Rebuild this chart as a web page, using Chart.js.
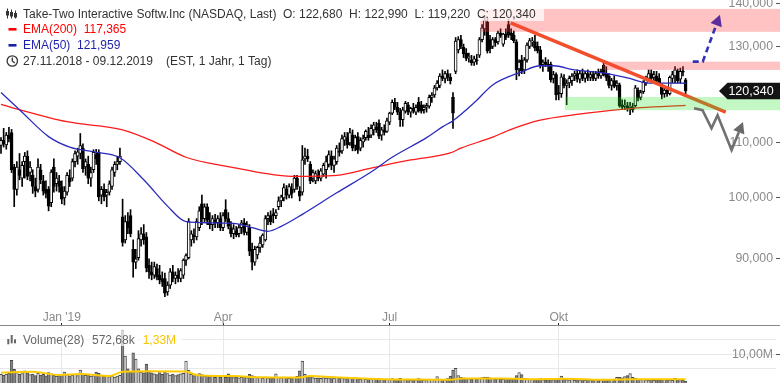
<!DOCTYPE html>
<html><head><meta charset="utf-8">
<script src="https://cdn.jsdelivr.net/npm/chart.js@4/dist/chart.umd.min.js"></script>
<style>
html,body{margin:0;padding:0;background:#fff;overflow:hidden;}
#wrap{position:relative;width:780px;height:383px;overflow:hidden;background:#fff;}
#main{position:absolute;left:0;top:0;}
#vol{position:absolute;left:0;top:305px;}
</style></head><body>
<div id="wrap">
<canvas id="main" width="780" height="326"></canvas>
<canvas id="vol" width="780" height="78"></canvas>
</div>
<script>
const FONT = "'Liberation Sans', Arial, Helvetica, sans-serif";

// ---------------- data ----------------
const open = [
109.5,110.5,109.6,111.5,112.0,105.5,101.5,105.0,103.5,106.5,
107.5,104.5,104.0,102.0,101.5,105.0,103.0,101.5,101.5,99.2,
105.5,102.5,103.0,102.0,100.0,101.0,103.5,103.5,106.5,107.5,
108.0,109.0,105.5,106.0,103.5,105.0,107.8,108.2,100.5,101.5,
100.5,101.0,102.0,104.5,106.0,106.5,96.8,93.0,96.0,97.0,
91.5,89.5,90.2,93.0,94.0,93.5,89.0,88.0,87.5,88.5,
87.5,87.0,87.0,85.0,86.0,88.0,87.0,87.5,87.0,87.5,
89.8,90.2,93.0,93.8,93.5,95.0,99.0,96.5,98.5,96.0,
95.5,96.2,95.8,96.5,95.0,98.0,96.5,95.0,94.0,94.5,
94.0,95.0,95.8,94.2,95.0,91.5,89.5,90.6,91.8,92.2,
93.0,96.5,97.0,97.3,97.0,98.5,99.5,100.0,101.5,100.5,
101.5,101.5,103.5,101.2,101.0,107.0,107.5,106.0,103.5,103.0,
104.0,103.5,104.2,105.0,106.0,107.5,105.8,106.5,108.5,108.5,
110.5,111.0,110.0,111.5,109.5,111.2,109.0,110.2,111.0,111.5,
111.5,112.5,113.0,113.8,111.5,112.5,112.2,114.0,115.8,118.0,
117.0,116.0,114.5,116.2,117.5,116.0,116.8,116.0,118.0,117.5,
116.5,117.0,117.2,119.0,119.5,121.0,121.5,123.5,123.0,124.0,
123.2,119.0,124.5,129.2,131.5,129.8,128.5,127.5,127.0,126.5,
127.0,128.0,131.5,134.0,135.5,131.5,130.0,131.5,131.0,133.0,
130.5,132.8,135.0,133.0,132.5,131.0,125.0,127.0,124.8,127.0,
130.0,131.0,131.0,130.0,129.2,126.0,126.5,126.0,126.0,123.0,
123.8,120.0,119.8,123.0,121.5,122.0,122.5,123.5,124.0,122.8,
124.0,123.0,124.0,123.2,123.8,123.0,124.0,123.5,125.8,124.0,
123.5,121.5,122.5,121.5,121.6,117.5,117.2,117.3,117.0,117.0,
117.3,120.5,119.0,120.2,122.0,123.0,124.0,123.2,123.5,123.0,
121.2,119.8,120.5,119.8,123.0,123.5,124.5,122.8,124.5,122.68];
const high = [
111.0,112.8,112.0,113.0,112.6,106.0,106.5,108.0,106.5,108.2,
108.5,106.5,105.0,103.5,107.0,106.0,104.0,103.0,102.0,105.0,
107.0,104.5,104.0,103.0,102.0,104.5,105.0,107.0,108.5,109.0,
111.8,109.8,107.0,107.5,105.5,108.7,108.8,108.7,102.0,102.5,
101.5,103.0,105.5,106.5,107.5,109.0,99.8,97.0,97.5,98.0,
93.0,91.5,94.5,95.0,95.5,94.2,90.0,89.5,89.5,89.2,
89.0,88.0,87.8,86.5,88.5,89.0,88.0,88.5,88.5,90.0,
90.8,96.5,94.5,94.8,96.5,98.5,100.5,99.0,99.0,97.5,
97.0,97.2,97.0,97.5,97.5,99.7,97.5,96.0,95.5,95.2,
95.5,96.2,96.5,96.0,95.5,92.5,92.0,92.0,93.5,94.0,
97.0,97.5,97.8,98.2,98.0,100.2,100.5,102.5,102.2,102.5,
102.5,104.0,104.0,102.0,109.5,109.0,108.8,106.5,105.0,104.8,
105.0,105.2,106.2,107.5,108.5,108.5,107.5,109.5,110.0,111.5,
112.0,112.0,112.8,112.5,111.5,112.0,111.0,111.5,112.5,113.0,
113.5,114.0,114.0,114.5,113.0,113.5,114.8,116.0,118.5,118.8,
118.0,116.8,117.0,118.2,118.0,117.0,117.8,117.5,119.0,118.2,
117.5,117.8,119.5,120.0,121.5,122.5,124.0,124.8,124.5,124.8,
124.0,120.0,132.0,132.2,132.5,130.5,129.5,128.5,128.0,127.8,
128.2,132.0,135.0,137.0,136.5,132.5,132.0,132.0,133.5,134.0,
133.0,134.0,136.2,134.0,133.5,131.5,127.0,128.0,127.5,130.8,
131.8,132.0,132.5,131.0,130.0,127.0,127.5,127.0,126.5,124.5,
124.2,121.5,124.0,123.8,122.7,123.5,124.0,124.5,124.8,124.5,
125.0,124.5,124.8,124.5,124.5,124.5,125.0,125.0,126.7,125.5,
124.0,123.0,123.5,122.5,122.0,118.5,118.5,118.0,118.0,117.8,
121.5,121.0,120.5,122.5,123.5,124.8,124.8,124.5,124.5,124.0,
121.8,121.0,121.0,123.5,124.5,125.5,125.0,125.2,125.5,122.99];
const low = [
108.0,109.2,108.8,110.2,104.5,98.5,100.5,103.2,102.0,103.5,
103.2,103.0,100.8,100.2,101.0,102.5,100.5,100.0,97.8,98.5,
101.0,101.2,101.0,99.0,98.8,100.5,102.0,103.0,105.5,106.0,
107.0,104.5,104.0,102.5,102.0,104.5,106.0,99.5,99.0,99.5,
98.5,100.5,101.5,103.8,105.0,106.0,92.0,92.5,94.0,93.5,
87.2,88.5,89.8,92.0,92.3,88.0,87.0,86.8,87.0,86.8,
86.2,85.8,84.3,84.5,85.5,86.5,86.2,86.5,86.5,87.0,
89.0,90.0,92.0,92.5,93.0,94.5,95.5,96.0,95.5,94.8,
94.5,95.0,95.0,94.5,94.5,96.0,94.8,93.5,93.2,93.5,
93.5,94.0,93.8,93.8,90.5,88.3,89.0,90.0,91.0,91.8,
92.8,95.5,95.5,95.8,96.5,98.0,98.5,99.5,99.8,100.0,
100.0,101.0,101.5,99.5,100.5,106.0,106.5,102.5,102.8,102.5,
103.0,103.0,103.8,103.5,105.5,105.0,104.5,106.0,107.5,108.0,
109.5,109.0,109.5,108.5,108.5,108.0,108.5,109.2,110.5,110.5,
111.0,111.5,112.0,110.8,110.5,111.5,112.0,113.5,115.5,116.5,
115.5,113.2,113.2,115.8,115.5,115.0,115.8,115.5,116.0,115.8,
115.8,116.0,116.8,118.0,119.0,120.5,121.0,122.5,122.0,122.5,
121.8,112.8,124.0,128.5,129.5,127.5,126.8,126.5,125.8,125.8,
126.0,127.5,131.0,132.5,128.5,128.5,129.5,130.0,130.5,132.0,
130.0,131.5,132.0,131.5,130.8,122.7,123.5,124.0,124.0,126.5,
129.5,130.0,129.0,128.5,125.2,124.5,125.5,124.5,122.2,122.0,
118.5,118.5,119.0,121.0,117.5,121.0,121.5,122.5,122.2,122.0,
122.5,122.2,122.5,122.5,122.5,122.5,123.0,123.0,123.5,122.5,
121.0,120.5,121.0,120.5,117.0,116.5,116.5,116.2,115.5,116.0,
117.0,118.3,118.5,119.8,121.5,122.5,122.5,122.0,122.0,121.5,
118.7,119.0,119.2,119.5,122.0,122.0,122.0,122.0,123.5,119.22];
const close = [
110.5,109.8,111.5,110.8,105.0,101.5,105.5,104.0,105.8,107.5,
103.8,105.5,102.0,101.2,105.5,103.2,101.2,100.8,98.6,104.6,
102.0,103.5,102.0,99.8,101.2,104.0,102.8,106.5,108.0,108.3,
109.5,105.2,106.5,103.5,104.5,108.2,107.0,100.2,101.5,100.2,
101.0,102.5,105.0,106.0,106.5,107.5,92.6,96.0,95.0,94.0,
89.5,90.0,93.2,94.0,93.0,88.6,88.0,87.5,88.8,87.2,
86.8,86.5,84.8,86.0,88.0,87.0,87.5,87.0,88.2,89.8,
90.5,96.0,94.0,93.5,96.0,97.8,96.5,98.5,96.2,95.5,
96.5,95.8,96.5,95.0,97.0,96.5,95.2,94.0,94.8,93.8,
95.0,95.8,94.2,95.5,91.2,89.5,91.5,91.8,92.5,93.8,
96.5,97.0,96.0,97.0,97.5,99.5,100.2,101.8,100.5,102.0,
100.8,103.5,102.0,100.3,106.8,107.5,107.0,103.0,104.5,104.3,
103.5,104.8,105.8,106.5,107.8,105.8,107.0,109.0,108.2,110.8,
111.2,109.6,112.0,109.0,111.0,108.6,110.5,110.8,112.2,111.0,
112.8,113.5,112.5,111.3,112.5,112.0,114.3,115.8,118.0,117.0,
116.0,114.5,116.5,117.8,116.0,116.8,116.2,117.0,116.3,116.2,
117.0,117.4,119.0,119.5,121.0,122.0,123.5,123.0,124.0,123.2,
122.5,115.8,131.2,131.5,130.0,128.3,127.3,127.5,126.3,127.2,
126.8,131.5,134.2,136.0,129.0,129.5,131.5,130.8,133.0,132.5,
132.8,132.0,132.6,132.5,131.3,124.8,126.5,124.6,127.0,130.3,
131.3,131.0,129.6,129.0,125.8,126.5,126.0,125.8,122.7,123.8,
119.5,119.8,123.3,121.5,122.0,123.0,123.5,124.0,122.8,124.0,
123.0,124.0,123.2,123.8,123.0,124.0,123.5,124.5,123.8,123.2,
121.5,122.5,121.3,122.0,117.3,117.0,117.3,116.8,117.2,116.5,
121.0,118.8,120.0,122.2,123.0,124.0,123.0,123.8,122.5,121.8,
119.6,120.5,119.7,123.2,123.8,124.8,122.5,124.5,124.3,120.34];
// volume in millions
const volume = [
3.0,2.7,3.1,3.4,7.9,4.8,3.6,3.0,3.3,4.2,
3.5,2.9,3.1,2.6,3.4,2.8,3.0,2.5,3.6,3.2,
2.7,2.4,2.6,3.0,3.8,2.9,2.5,2.8,3.0,2.6,
4.5,3.1,2.7,2.9,2.4,2.6,3.8,3.4,2.8,2.3,
2.6,2.2,2.5,2.1,2.4,2.7,18.5,9.4,4.9,4.0,
10.5,8.3,4.9,3.8,3.5,6.6,4.2,3.5,3.2,2.9,
3.6,3.0,4.0,3.3,2.8,3.1,2.6,2.9,3.2,3.4,
7.6,4.5,3.0,2.6,2.8,3.3,2.9,2.4,2.6,2.2,
2.5,2.0,2.3,2.1,2.4,2.0,3.2,2.2,1.9,2.1,
1.8,2.0,2.3,1.9,3.0,2.6,2.2,1.9,2.0,1.7,
2.1,1.8,1.9,1.7,3.2,2.0,1.8,2.1,1.9,1.6,
1.8,2.0,2.3,4.2,7.6,3.0,2.2,2.4,1.9,1.7,
1.8,1.6,1.9,1.7,1.8,1.5,1.7,2.0,1.6,1.8,
1.5,1.7,1.9,1.6,1.8,1.5,1.4,1.6,1.3,1.5,
1.4,1.6,1.3,1.5,1.4,1.2,1.4,1.3,1.5,1.2,
1.4,1.6,1.3,1.2,1.4,1.1,1.3,1.2,1.5,1.3,
1.1,1.2,1.4,1.3,1.2,2.2,1.4,1.3,1.2,1.5,
2.4,4.5,5.1,2.6,2.0,1.8,1.6,1.5,1.4,1.6,
1.5,1.7,1.9,2.1,2.0,1.8,1.6,1.4,1.5,1.3,
1.4,1.6,1.5,1.3,1.4,2.6,3.6,2.9,1.6,1.5,
1.3,1.4,1.2,1.3,1.5,1.2,1.1,1.3,1.4,1.2,
1.5,1.3,2.4,1.4,1.2,1.1,1.3,1.0,1.2,1.1,
1.3,1.0,1.2,1.1,0.9,1.2,1.0,1.1,1.4,1.2,
1.1,1.3,1.0,2.0,2.0,1.8,2.2,2.6,3.3,2.0,
1.7,1.4,1.2,1.3,1.1,1.0,1.2,0.9,1.1,1.0,
1.2,1.3,1.0,1.1,0.9,1.6,1.1,0.8,0.9,0.57268];
// indicator lines (x = trading-day index)
const ema200Idx = [0,7,25,46,58,70,88,98,110,127,140,155,170,174,186,193,204,217,230,242,259];
const ema200Val = [117.6,116.5,114.1,112.5,110.2,107.3,105.4,104.5,103.8,104.0,105.3,106.8,108.1,109.0,111.1,112.6,114.4,115.5,116.3,116.9,117.365];
const ema50Idx = [0,7,18,26,35,45,54,63,70,79,88,95,101,106,114,127,140,148,161,167,171,179,186,197,204,209,217,227,237,245,252,259];
const ema50Val = [120.0,116.5,111.2,109.2,108.3,107.2,103.2,98.6,96.0,95.8,95.7,95.0,94.4,95.2,97.2,100.9,104.6,107.3,111.0,113.1,114.3,117.9,121.6,124.4,125.7,125.7,124.8,124.2,123.1,122.0,122.0,121.959];
const volMaIdx = [0,12,22,30,41,46,56,70,74,88,98,113,117,126,145,159,170,174,189,201,214,227,239,259];
const volMaVal = [3.6,3.9,2.8,3.1,2.4,3.9,4.1,4.0,2.8,2.4,2.0,1.9,2.4,2.0,1.3,1.2,1.1,1.6,1.6,1.3,1.5,1.1,1.3,1.33];

const monthIdx = [23, 84, 147, 211];
const monthLabels = ["Jan '19", "Apr", "Jul", "Okt"];
const priceTicks = [90, 100, 110, 120, 130, 140];
const volTicks = [5, 10, 15];
const volLabelTicks = [10];

const titleText = 'Take-Two Interactive Softw.Inc (NASDAQ, Last)';
const periodText = '27.11.2018 - 09.12.2019';
const periodInfo = '(EST, 1 Jahr, 1 Tag)';
const ema200Name = 'EMA(200)';
const ema50Name = 'EMA(50)';
const volName = 'Volume(28)';

// drawn annotations, in data coordinates (trading-day index, price)
const trendIdx = [192.8, 274.2];
const trendVal = [135.4, 116.0];
const zoneFrom = [181.4, 227.7, 213.3];
const zoneHi = [138.7, 126.6, 119.1];
const zoneLo = [133.3, 124.8, 116.4];
const zoneKind = ['r', 'r', 's'];
const upIdx = [261.7, 265.5, 272.0];
const upVal = [126.6, 126.6, 137.3];
const downIdx = [262.2, 265.4, 268.8, 271.1, 276.4, 280.7];
const downVal = [116.8, 116.4, 112.8, 115.4, 108.66, 114.05];

// ---------------- helpers ----------------
const X_MIN = -0.38, X_MAX = 293.2;
const Y_MIN = 80.132, Y_MAX = 140.85;
const VOL_MAX = 19.86;
const N = close.length;
const last = N - 1;
const fmt3 = v => v.toFixed(3).replace('.', ',');
const fmtM = v => v.toFixed(2).replace('.', ',') + 'M';
const fmtK = v => (v * 1000).toFixed(2).replace('.', ',') + 'k';
const idx = close.map((_, i) => i);
const isUp = i => close[i] >= open[i];
const noPad = s => { s.paddingTop = 0; s.paddingBottom = 0; s.paddingLeft = 0; s.paddingRight = 0; };

const lenOk = [open, high, low, volume].every(a => a.length === N);

function drawArrow(ctx, pts, color, width, dash, headColor, headLen, headW) {
  const n = pts.length, tip = pts[n - 1], prev = pts[n - 2];
  const ang = Math.atan2(tip.y - prev.y, tip.x - prev.x);
  const bx = tip.x - Math.cos(ang) * headLen, by = tip.y - Math.sin(ang) * headLen;
  ctx.save();
  ctx.strokeStyle = color; ctx.lineWidth = width; ctx.setLineDash(dash);
  ctx.lineJoin = 'miter'; ctx.lineCap = 'butt';
  ctx.beginPath(); ctx.moveTo(pts[0].x, pts[0].y);
  for (let i = 1; i < n - 1; i++) ctx.lineTo(pts[i].x, pts[i].y);
  ctx.lineTo(bx, by); ctx.stroke();
  ctx.setLineDash([]);
  ctx.fillStyle = headColor;
  ctx.beginPath(); ctx.moveTo(tip.x, tip.y);
  ctx.lineTo(bx + Math.sin(ang) * headW / 2, by - Math.cos(ang) * headW / 2);
  ctx.lineTo(bx - Math.sin(ang) * headW / 2, by + Math.cos(ang) * headW / 2);
  ctx.closePath(); ctx.fill();
  ctx.restore();
}

const mainOverlay = {
  id: 'mainOverlay',
  afterDatasetsDraw(chart) {
    const ctx = chart.ctx, xs = chart.scales.x, ys = chart.scales.y;
    ctx.save();
    for (let k = 0; k < zoneFrom.length; k++) {
      const x0 = xs.getPixelForValue(zoneFrom[k]);
      const y0 = ys.getPixelForValue(zoneHi[k]);
      const y1 = ys.getPixelForValue(zoneLo[k]);
      ctx.fillStyle = zoneKind[k] === 'r' ? 'rgba(255,60,60,0.31)' : 'rgba(40,225,40,0.28)';
      ctx.fillRect(x0, y0, chart.width - x0, y1 - y0);
    }
    ctx.restore();
    const P = (a, b) => a.map((v, i) => ({x: xs.getPixelForValue(v), y: ys.getPixelForValue(b[i])}));
    drawArrow(ctx, P(upIdx, upVal), '#3232b4', 2.6, [6, 4], '#5b2d9e', 11, 12);
    drawArrow(ctx, P(downIdx, downVal), '#707070', 2.6, [], '#6a6a6a', 11, 12);
  },
  afterDraw(chart) {
    const ctx = chart.ctx, ys = chart.scales.y;
    ctx.save();
    // legend background
    ctx.fillStyle = 'rgba(255,255,255,0.75)';
    ctx.fillRect(0, 2, 544, 19);
    ctx.textBaseline = 'alphabetic'; ctx.textAlign = 'left';
    ctx.font = '12px ' + FONT;
    // line 1 icon
    ctx.fillStyle = '#333'; ctx.strokeStyle = '#333'; ctx.lineWidth = 1;
    [7.5, 11.5, 15.5].forEach((cx, j) => {
      ctx.beginPath(); ctx.moveTo(cx, 8.5 + j); ctx.lineTo(cx, 18.5); ctx.stroke();
      ctx.fillRect(cx - 1.5, 11 + j, 3, 4.5);
    });
    ctx.fillStyle = '#333';
    ctx.fillText(titleText, 23, 17.8);
    ctx.fillText('O: ' + fmt3(open[last]) + '  H: ' + fmt3(high[last]) + '  L: ' + fmt3(low[last]) + '  C: ' + fmt3(close[last]), 283, 17.8);
    // line 2
    ctx.fillStyle = '#ff0000';
    ctx.fillRect(8.5, 28, 8, 2.6);
    ctx.fillText(ema200Name + '  ' + fmt3(ema200Val[ema200Val.length - 1]), 23, 33.3);
    // line 3
    ctx.fillStyle = '#1f1fae';
    ctx.fillRect(8.5, 44, 8, 2.6);
    ctx.fillText(ema50Name + '  ' + fmt3(ema50Val[ema50Val.length - 1]), 23, 48.8);
    // line 4 clock
    ctx.strokeStyle = '#333'; ctx.lineWidth = 1.3;
    ctx.beginPath(); ctx.arc(12.3, 61, 5.2, 0, Math.PI * 2); ctx.stroke();
    ctx.beginPath(); ctx.moveTo(12.3, 57.6); ctx.lineTo(12.3, 61); ctx.lineTo(14.8, 63); ctx.stroke();
    ctx.fillStyle = '#333';
    ctx.fillText(periodText, 23, 65.2);
    ctx.fillText(periodInfo, 166, 65.2);
    // last price marker
    const yP = ys.getPixelForValue(close[last]);
    ctx.fillStyle = '#141414';
    ctx.beginPath();
    ctx.moveTo(719, yP); ctx.lineTo(727.5, yP - 8.3); ctx.lineTo(780, yP - 8.3);
    ctx.lineTo(780, yP + 8.3); ctx.lineTo(727.5, yP + 8.3); ctx.closePath(); ctx.fill();
    ctx.fillStyle = '#fff'; ctx.font = '12.5px ' + FONT;
    ctx.textAlign = 'center'; ctx.textBaseline = 'middle';
    ctx.fillText(fmt3(close[last]), 751, yP + 0.5);
    if (!lenOk) { ctx.fillStyle = 'red'; ctx.fillText('LEN MISMATCH ' + [open.length, high.length, low.length, close.length, volume.length].join('/'), 300, 150); }
    ctx.restore();
  }
};

new Chart(document.getElementById('main'), {
  type: 'bar',
  data: {
    datasets: [
      {
        type: 'bar', label: 'wick', stack: 'c',
        data: idx.map(i => ({x: i, y: [low[i], high[i]]})),
        backgroundColor: '#000', borderWidth: 0, barThickness: 1, order: 4
      },
      {
        type: 'bar', label: 'body', stack: 'c',
        data: idx.map(i => ({x: i, y: [open[i], close[i]]})),
        backgroundColor: idx.map(i => isUp(i) ? '#ffffff' : '#000000'),
        borderColor: '#000', borderWidth: 1, borderSkipped: false,
        barThickness: 3, minBarLength: 1, order: 3
      },
      {
        type: 'line', label: ema200Name,
        data: ema200Idx.map((x, i) => ({x, y: ema200Val[i]})),
        borderColor: '#ff1a1a', borderWidth: 1.3, pointRadius: 0,
        cubicInterpolationMode: 'monotone', order: 2
      },
      {
        type: 'line', label: ema50Name,
        data: ema50Idx.map((x, i) => ({x, y: ema50Val[i]})),
        borderColor: '#2b2bbd', borderWidth: 1.3, pointRadius: 0,
        cubicInterpolationMode: 'monotone', order: 1
      },
      {
        type: 'line', label: 'trend',
        data: trendIdx.map((x, i) => ({x, y: trendVal[i]})),
        borderColor: '#f2502c', borderWidth: 3.6, pointRadius: 0, order: 0
      }
    ]
  },
  options: {
    responsive: false, animation: false, events: [],
    layout: {padding: 0},
    plugins: {legend: {display: false}, tooltip: {enabled: false}},
    scales: {
      x: {type: 'linear', min: X_MIN, max: X_MAX, offset: false, display: false,
          grid: {offset: false}, afterFit: noPad},
      y: {
        type: 'logarithmic', position: 'right', min: Y_MIN, max: Y_MAX, stacked: false,
        afterBuildTicks: s => { s.ticks = priceTicks.map(v => ({value: v})); },
        afterFit: s => { s.width = 4; noPad(s); },
        border: {display: false},
        grid: {drawOnChartArea: false, drawTicks: true, tickLength: 4, tickColor: '#555', color: '#555'},
        ticks: {mirror: true, padding: -3, color: '#8a8a8a', font: {family: FONT, size: 12.3},
                callback: v => fmt3(v)}
      }
    }
  },
  plugins: [mainOverlay]
});

const volOverlay = {
  id: 'volOverlay',
  afterDatasetsDraw(chart) {
    const ctx = chart.ctx;
    ctx.save();
    ctx.fillStyle = 'rgba(255,255,255,0.7)';
    ctx.fillRect(0, 22, 182, 19);
    ctx.fillStyle = '#666';
    ctx.fillRect(7.3, 34, 2, 5.3);
    ctx.fillRect(10.7, 30, 2, 8.3);
    ctx.fillRect(14, 34.3, 2, 4);
    ctx.font = '12px ' + FONT; ctx.textAlign = 'left'; ctx.textBaseline = 'alphabetic';
    ctx.fillText(volName, 23, 38.5);
    ctx.fillText(fmtK(volume[last]), 92, 38.5);
    ctx.fillStyle = '#f7c600';
    ctx.fillText(fmtM(volMaVal[volMaVal.length - 1]), 142.7, 38.5);
    ctx.strokeStyle = '#888'; ctx.lineWidth = 1;
    ctx.beginPath(); ctx.moveTo(0, chart.chartArea.top - 0.5); ctx.lineTo(780, chart.chartArea.top - 0.5); ctx.stroke();
    ctx.restore();
  }
};

new Chart(document.getElementById('vol'), {
  type: 'bar',
  data: {
    datasets: [
      {
        type: 'bar', label: 'vol',
        data: idx.map(i => ({x: i, y: volume[i]})),
        backgroundColor: idx.map(i => isUp(i) ? '#c4c4c4' : '#858585'),
        borderColor: '#444', borderWidth: {top: 1, left: 0.6, right: 0.6, bottom: 0},
        borderSkipped: 'start', barThickness: 2.64, order: 2
      },
      {
        type: 'line', label: 'ma',
        data: volMaIdx.map((x, i) => ({x, y: volMaVal[i]})),
        borderColor: '#ffcc00', borderWidth: 2, pointRadius: 0,
        cubicInterpolationMode: 'monotone', order: 1
      }
    ]
  },
  options: {
    responsive: false, animation: false, events: [],
    layout: {padding: 0},
    plugins: {legend: {display: false}, tooltip: {enabled: false}},
    scales: {
      x: {
        type: 'linear', position: 'top', min: X_MIN, max: X_MAX, offset: false,
        afterBuildTicks: s => { s.ticks = monthIdx.map(v => ({value: v})); },
        afterFit: s => { s.height = 21; noPad(s); },
        border: {display: false},
        grid: {offset: false, color: '#e8e8e8', tickColor: '#222', tickLength: 3, drawTicks: true},
        ticks: {autoSkip: false, maxRotation: 0, padding: -2, color: '#8a8a8a',
                font: {family: FONT, size: 12},
                callback: v => monthLabels[monthIdx.indexOf(v)]}
      },
      y: {
        type: 'linear', position: 'right', min: 0, max: VOL_MAX,
        afterBuildTicks: s => { s.ticks = volTicks.map(v => ({value: v})); },
        afterFit: s => { s.width = 4; noPad(s); },
        border: {display: false},
        grid: {color: '#e8e8e8', tickLength: 4, drawTicks: true,
               tickColor: c => volLabelTicks.includes(c.tick && c.tick.value) ? '#555' : 'rgba(0,0,0,0)'},
        ticks: {mirror: true, padding: -3, color: '#8a8a8a', font: {family: FONT, size: 12.3},
                callback: v => volLabelTicks.includes(v) ? fmtM(v) : ''}
      }
    }
  },
  plugins: [volOverlay]
});
</script>
</body></html>
